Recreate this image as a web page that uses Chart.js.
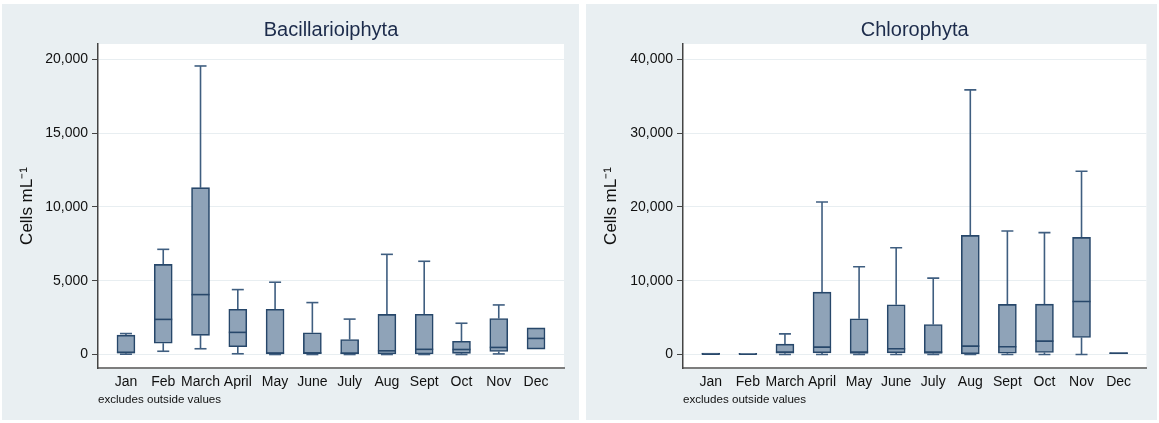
<!DOCTYPE html>
<html>
<head>
<meta charset="utf-8">
<title>Monthly cell counts</title>
<script src="https://cdn.jsdelivr.net/npm/chart.js@4.4.1/dist/chart.umd.min.js"></script>
<style>
    body { margin: 0; background: #ffffff; }
    .panel { position: absolute; top: 4px; height: 416px; background: #e9eff2; }
    #left-panel { left: 2px; width: 577px; }
    #right-panel { left: 586px; width: 571px; }
</style>
</head>
<body>
<div class="panel" id="left-panel"><canvas id="bacChart"></canvas></div>
<div class="panel" id="right-panel"><canvas id="chlChart"></canvas></div>
<script>
const months = ['Jan', 'Feb', 'March', 'April', 'May', 'June', 'July', 'Aug', 'Sept', 'Oct', 'Nov', 'Dec'];

// Bacillarioiphyta, cells per mL
const bacMin = [20, 220, 390, 50, 0, 0, 0, 0, 0, 0, 40, 370];
const bacQ1 = [90, 760, 1300, 530, 40, 50, 40, 40, 40, 80, 210, 370];
const bacMed = [150, 2380, 4060, 1500, 100, 110, 90, 250, 350, 340, 480, 1090];
const bacQ3 = [1310, 6110, 11310, 3070, 3070, 1470, 1010, 2720, 2730, 900, 2440, 1800];
const bacMax = [1420, 7130, 19560, 4400, 4900, 3520, 2400, 6790, 6320, 2120, 3360, 1800];
const bacTicks = [0, 5000, 10000, 15000, 20000];

// Chlorophyta, cells per mL
const chlMin = [0, 0, 0, 0, 0, 0, 0, 0, 0, 0, 0, 100];
const chlQ1 = [0, 0, 180, 230, 140, 230, 140, 90, 180, 270, 2300, 100];
const chlMed = [50, 30, 320, 1000, 320, 770, 320, 1130, 1060, 1810, 7190, 180];
const chlQ3 = [200, 150, 1400, 8460, 4840, 6740, 4070, 16150, 6790, 6830, 15880, 260];
const chlMax = [200, 150, 2800, 20680, 11900, 14480, 10360, 35880, 16740, 16520, 24840, 260];
const chlTicks = [0, 10000, 20000, 30000, 40000];

const boxFill = '#8fa3b8';
const boxLine = '#27476a';
const whiskerLine = '#3f5e80';

Chart.defaults.font.family = '"Liberation Sans", Arial, Helvetica, sans-serif';
Chart.defaults.color = '#111111';

// white plot region, like the Stata scheme
const plotAreaBackground = {
    id: 'plotAreaBackground',
    beforeDraw(chart) {
        const { ctx, chartArea } = chart;
        ctx.save();
        ctx.fillStyle = '#ffffff';
        ctx.fillRect(chartArea.left, chartArea.top, chartArea.right - chartArea.left, chartArea.bottom - chartArea.top);
        ctx.restore();
    }
};

function make_box_chart(canvasId, titleText, mins, q1s, medians, q3s, maxs, yTicks, yMin, yMax, yAxisWidth, padRight) {
    const idx = months.map((m, i) => i);

    const boxData = idx.map(i => ({ x: i, y: [q1s[i], q3s[i]] }));
    const medianData = idx.map(i => ({ x: i, y: medians[i] }));
    const capData = [];
    const whiskerData = [];
    idx.forEach(i => {
        if (maxs[i] > q3s[i]) {
            whiskerData.push({ x: i, y: q3s[i] }, { x: i, y: maxs[i] }, { x: i, y: null });
            capData.push({ x: i, y: maxs[i] });
        }
        if (mins[i] < q1s[i]) {
            whiskerData.push({ x: i, y: q1s[i] }, { x: i, y: mins[i] }, { x: i, y: null });
            capData.push({ x: i, y: mins[i] });
        }
    });

    const ctx = document.getElementById(canvasId).getContext('2d');
    return new Chart(ctx, {
        type: 'bar',
        data: {
            datasets: [
                {
                    label: 'Median',
                    type: 'scatter',
                    data: medianData,
                    pointStyle: 'line',
                    pointRadius: 9,
                    pointBorderWidth: 1.6,
                    pointBorderColor: boxLine,
                    order: 0
                },
                {
                    label: 'Caps',
                    type: 'scatter',
                    data: capData,
                    pointStyle: 'line',
                    pointRadius: 6,
                    pointBorderWidth: 1.6,
                    pointBorderColor: whiskerLine,
                    order: 1
                },
                {
                    label: 'Interquartile range',
                    type: 'bar',
                    data: boxData,
                    backgroundColor: boxFill,
                    borderColor: boxLine,
                    borderWidth: 1.6,
                    borderSkipped: false,
                    barThickness: 18,
                    order: 2
                },
                {
                    label: 'Whiskers',
                    type: 'line',
                    data: whiskerData,
                    borderColor: whiskerLine,
                    borderWidth: 1.6,
                    pointRadius: 0,
                    spanGaps: false,
                    order: 3
                }
            ]
        },
        options: {
            responsive: true,
            maintainAspectRatio: false,
            animation: false,
            layout: { padding: { left: 0, right: padRight, top: 0, bottom: 0 } },
            plugins: {
                legend: { display: false },
                tooltip: { enabled: false },
                title: {
                    display: true,
                    text: titleText,
                    fullSize: false,
                    color: '#1c2b4b',
                    font: { size: 20, weight: 'normal' },
                    padding: { top: 14, bottom: 2 }
                }
            },
            scales: {
                x: {
                    type: 'linear',
                    min: -0.75,
                    max: 11.75,
                    offset: false,
                    grid: { display: false, drawTicks: false },
                    border: { display: true, color: '#7d7d7d', width: 2 },
                    afterBuildTicks: (scale) => { scale.ticks = idx.map(v => ({ value: v })); },
                    afterFit: (scale) => { scale.height = 52; },
                    ticks: {
                        autoSkip: false,
                        maxRotation: 0,
                        padding: 6,
                        font: { size: 14 },
                        callback: (value) => months[value]
                    },
                    title: {
                        display: true,
                        text: 'excludes outside values',
                        align: 'start',
                        font: { size: 11.6 },
                        padding: { top: 0, bottom: 13 }
                    }
                },
                y: {
                    type: 'linear',
                    min: yMin,
                    max: yMax,
                    afterBuildTicks: (scale) => { scale.ticks = yTicks.map(v => ({ value: v })); },
                    afterFit: (scale) => { scale.width = yAxisWidth; },
                    grid: { color: '#e8eef1', tickColor: '#444444', tickLength: 6, lineWidth: 1 },
                    border: { display: true, color: '#444444', width: 1.5 },
                    ticks: {
                        padding: 4,
                        font: { size: 14 },
                        callback: (value) => value.toLocaleString('en-US')
                    },
                    title: {
                        display: true,
                        text: 'Cells mL⁻¹',
                        font: { size: 17 },
                        padding: { top: 15, bottom: 0 }
                    }
                }
            }
        },
        plugins: [plotAreaBackground]
    });
}

make_box_chart('bacChart', 'Bacillarioiphyta', bacMin, bacQ1, bacMed, bacQ3, bacMax, bacTicks, -915, 21050, 96, 15);
make_box_chart('chlChart', 'Chlorophyta', chlMin, chlQ1, chlMed, chlQ3, chlMax, chlTicks, -1830, 42100, 97, 9);
</script>
</body>
</html>
